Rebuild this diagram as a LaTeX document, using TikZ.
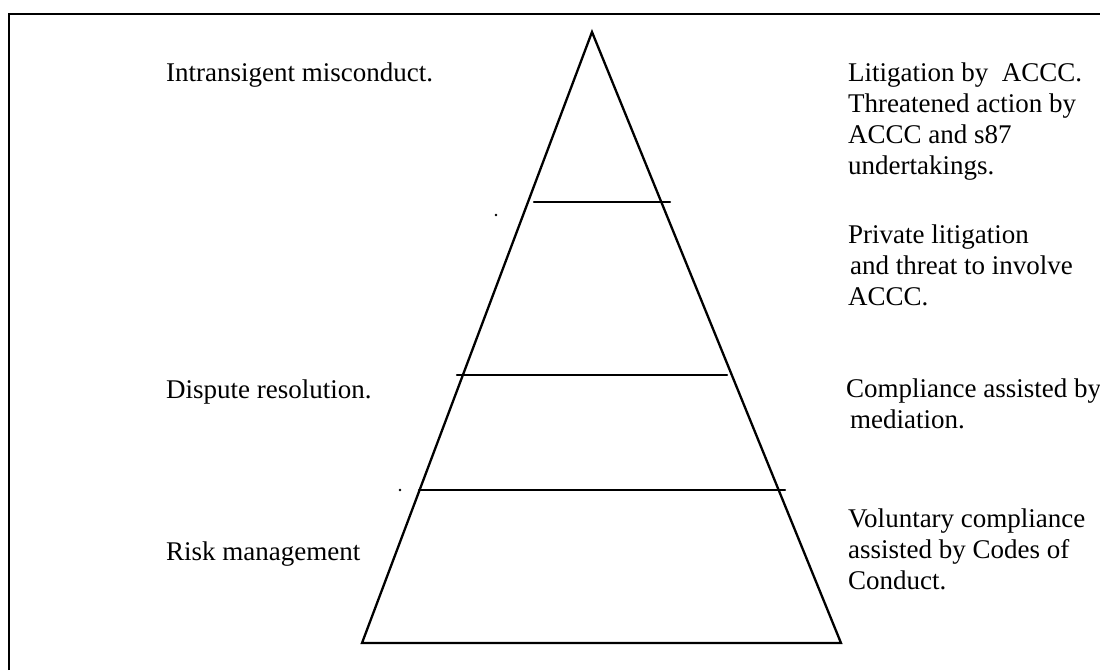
\documentclass[tikz,border=0pt]{standalone}
\usepackage{fontspec}
\setmainfont{Liberation Serif}
\begin{document}
\begin{tikzpicture}[x=1pt,y=-1pt,
  edge/.style={line width=2.3pt,line cap=round,line join=miter},
  lbl/.style={anchor=base west,inner sep=0pt,align=left,font=\fontsize{27}{31}\selectfont}]
\useasboundingbox (0,0) rectangle (1100,670);
% frame (left and top edges only visible)
\draw[line width=2.5pt] (9,670) -- (9,14) -- (1100,14);
% pyramid
\coordinate (apex) at (592,32);
\coordinate (bl) at (362,643);
\coordinate (br) at (841,643);
\draw[edge] (bl) -- (apex) -- (br) -- cycle;
% tier lines
\coordinate (t1a) at (534,202); \coordinate (t1b) at (670,202);
\coordinate (t2a) at (457,375); \coordinate (t2b) at (727,375);
\coordinate (t3a) at (419,490); \coordinate (t3b) at (785,490);
\draw[edge] (t1a) -- (t1b);
\draw[edge] (t2a) -- (t2b);
\draw[edge] (t3a) -- (t3b);
% stray dots
\fill (496,215) circle (1.4);
\fill (400,490) circle (1.4);
% left labels
\node[lbl] (l1) at (166,81) {Intransigent misconduct.};
\node[lbl] (l2) at (166,398) {Dispute resolution.};
\node[lbl] (l3) at (166,560) {Risk management};
% right labels (anchored at the baseline of the last line)
\node[lbl] (r1) at (848,174) {Litigation by\ \ ACCC.\\Threatened action by\\ACCC and s87\\undertakings.};
\node[lbl] (r2) at (848,305) {Private litigation\\\hspace*{2pt}and threat to involve\\ACCC.};
\node[lbl] (r3) at (846,428) {Compliance assisted by\\\hspace*{4pt}mediation.};
\node[lbl] (r4) at (848,589) {Voluntary compliance\\assisted by Codes of\\Conduct.};
\end{tikzpicture}
\end{document}
